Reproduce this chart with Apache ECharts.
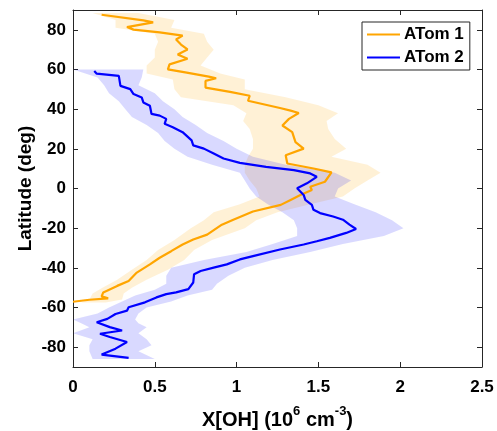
<!DOCTYPE html>
<html><head><meta charset="utf-8">
<script src="https://cdn.jsdelivr.net/npm/echarts@6/dist/echarts.min.js"></script>
<style>html,body{margin:0;padding:0;background:#fff}#c{width:497px;height:431px}</style>
</head><body><div id="c"></div>
<script>
const xTicks = [0, 0.5, 1, 1.5, 2, 2.5];
const yTicks = [-80, -60, -40, -20, 0, 20, 40, 60, 80];
const seriesNames = ['ATom 1', 'ATom 2'];

const atom1Lat = [87.6,84.75,83.75,81.4,80.1,78.75,77.1,75.1,72.6,70.1,67.6,65.4,62.6,60.1,58.4,56.4,55.6,54.25,50.9,48.75,46.75,44.25,40.6,39.25,38.1,35.1,31.75,28.4,23.4,20.1,16.75,12.6,10.1,8.1,3.4,0.9,-0.75,-3.25,-5.75,-8.25,-11.6,-15.75,-18.25,-23.25,-25.75,-28.25,-31.6,-34.9,-38.25,-42.4,-46.6,-49.1,-52.4,-54.4,-55.4,-56.1,-57.1];
const atom1OH  = [0.175,0.43,0.49,0.33,0.37,0.53,0.67,0.63,0.66,0.70,0.64,0.70,0.59,0.58,0.695,0.83,0.875,0.81,0.81,0.96,1.08,1.07,1.265,1.33,1.38,1.32,1.28,1.34,1.36,1.41,1.30,1.31,1.47,1.58,1.54,1.45,1.46,1.39,1.33,1.27,1.10,0.98,0.91,0.82,0.735,0.67,0.60,0.53,0.47,0.39,0.34,0.27,0.185,0.175,0.215,0.10,0.0];

const atom2Lat = [59.25,57.9,56.75,51.75,50.1,47.6,45.9,43.4,41.75,37.6,36.75,35.1,32.6,30.9,28.4,24.25,21.75,20.1,17.6,15.1,12.9,10.9,9.25,7.6,5.9,2.6,0.1,-3.25,-5.75,-8.25,-10.75,-12.4,-14.1,-15.75,-18.25,-20.4,-22.4,-24.9,-26.6,-28.25,-30.75,-34.1,-35.75,-38.25,-39.9,-41.6,-43.25,-47.4,-50.75,-52.4,-53.25,-54.9,-57.4,-59.9,-61.6,-63.25,-65.75,-67.4,-69.9,-71.6,-73.25,-74.9,-77.4,-80.75,-83.75,-85.4];
const atom2OH  = [0.13,0.145,0.28,0.29,0.35,0.37,0.42,0.43,0.47,0.48,0.53,0.57,0.56,0.61,0.67,0.725,0.735,0.80,0.86,0.92,1.02,1.18,1.35,1.45,1.49,1.43,1.37,1.41,1.42,1.46,1.47,1.51,1.59,1.65,1.69,1.73,1.67,1.57,1.49,1.41,1.265,1.10,1.02,0.94,0.86,0.78,0.74,0.735,0.705,0.63,0.57,0.51,0.44,0.34,0.33,0.26,0.21,0.145,0.225,0.30,0.165,0.225,0.33,0.26,0.175,0.34];

const atom1BandLat = [88.5,85,81,78,74,70,66,62,58,55,50,46,42,38,34,30,25,20,16,12,8,4,0,-4,-8,-12,-16,-20,-26,-31,-36,-41,-46,-50,-53,-56,-57.5];
const atom1BandLo  = [0.12,0.26,0.26,0.50,0.52,0.50,0.50,0.45,0.45,0.61,0.62,0.66,0.98,1.06,1.04,1.08,1.10,1.10,1.07,1.05,1.05,1.08,1.12,1.14,1.02,0.86,0.80,0.72,0.62,0.52,0.45,0.36,0.27,0.18,0.12,0.10,0.05];
const atom1BandHi  = [0.40,0.62,0.60,0.80,0.82,0.86,0.82,0.78,0.90,1.05,1.05,1.30,1.50,1.62,1.55,1.56,1.60,1.67,1.58,1.80,1.88,1.80,1.72,1.65,1.45,1.25,1.12,1.05,0.85,0.74,0.68,0.58,0.45,0.36,0.31,0.30,0.20];

const atom2BandLat = [60,56,52,48,44,40,36,32,28,24,20,16,12,8,4,0,-4,-8,-12,-16,-20,-24,-28,-32,-36,-40,-44,-48,-51,-54,-57,-60,-63,-66,-68,-70,-73,-76,-79,-82,-86];
const atom2BandLo  = [0.0,0.15,0.19,0.22,0.28,0.32,0.36,0.45,0.52,0.56,0.62,0.70,0.85,1.02,1.05,1.08,1.12,1.19,1.28,1.35,1.37,1.37,1.22,1.06,0.80,0.60,0.57,0.57,0.50,0.38,0.30,0.22,0.15,0.0,0.05,0.10,0.0,0.12,0.10,0.10,0.12];
const atom2BandHi  = [0.43,0.42,0.40,0.50,0.55,0.62,0.67,0.75,0.82,0.92,1.00,1.10,1.30,1.60,1.70,1.62,1.60,1.72,1.85,1.95,2.02,1.90,1.65,1.45,1.22,1.05,0.95,0.88,0.85,0.70,0.60,0.45,0.40,0.38,0.40,0.45,0.40,0.45,0.48,0.40,0.50];

function pairs(xs, ys) { return xs.map((x, i) => [x, ys[i]]); }

function band(name, lat, lo, hi, color) {
  return {
    type: 'custom', name: name, silent: true, z: 1, clip: true,
    data: [[0, 0]],
    renderItem: function (params, api) {
      const pts = [];
      for (let i = 0; i < lat.length; i++) pts.push(api.coord([lo[i], lat[i]]));
      for (let i = lat.length - 1; i >= 0; i--) pts.push(api.coord([hi[i], lat[i]]));
      return { type: 'polygon', shape: { points: pts }, style: { fill: color } };
    }
  };
}

const axisColor = '#262626';
const font = 'Liberation Sans, Arial, sans-serif';
const chart = echarts.init(document.getElementById('c'), null, { renderer: 'canvas' });
chart.setOption({
  animation: false,
  backgroundColor: '#fff',
  grid: { left: 73, right: 15, top: 10, bottom: 64, containLabel: false, outerBoundsMode: 'none' },
  legend: {
    data: seriesNames, orient: 'vertical', left: 362, top: 22,
    icon: 'rect', itemWidth: 33, itemHeight: 2, itemGap: 6,
    padding: [4, 6, 4, 5],
    borderColor: '#262626', borderWidth: 1, backgroundColor: '#fff',
    textStyle: { fontFamily: font, fontWeight: 'bold', fontSize: 17, color: '#000', padding: [0, 0, 0, -1] }
  },
  xAxis: [{
    type: 'value', min: 0, max: 2.5, interval: 0.5, position: 'bottom',
    axisLine: { show: true, onZero: false, lineStyle: { color: axisColor, width: 1 } },
    axisTick: { show: true, inside: true, length: 5, lineStyle: { color: axisColor } },
    axisLabel: { margin: 12, fontFamily: font, fontWeight: 'bold', fontSize: 17, color: '#000',
      customValues: xTicks },
    splitLine: { show: false },
    name: '{n|X[OH] (10}{s|6}{n| cm}{s|-3}{n|)}',
    nameLocation: 'middle', nameGap: 38, nameMoveOverlap: false,
    nameTextStyle: {
      rich: {
        n: { fontFamily: font, fontWeight: 'bold', fontSize: 20, color: '#000', lineHeight: 25, verticalAlign: 'bottom' },
        s: { fontFamily: font, fontWeight: 'bold', fontSize: 13, color: '#000', lineHeight: 25, verticalAlign: 'top' }
      }
    }
  }, {
    type: 'value', min: 0, max: 2.5, interval: 0.5, position: 'top',
    axisLine: { show: true, onZero: false, lineStyle: { color: axisColor, width: 1 } },
    axisTick: { show: true, inside: true, length: 5, lineStyle: { color: axisColor } },
    axisLabel: { show: false }, splitLine: { show: false }
  }],
  yAxis: [{
    type: 'value', min: -90, max: 90, position: 'left',
    axisLine: { show: true, onZero: false, lineStyle: { color: axisColor, width: 1 } },
    axisTick: { show: true, inside: true, length: 5, lineStyle: { color: axisColor }, customValues: yTicks },
    axisLabel: { margin: 7, fontFamily: font, fontWeight: 'bold', fontSize: 17, color: '#000', customValues: yTicks },
    splitLine: { show: false },
    name: 'Latitude (deg)', nameLocation: 'middle', nameGap: 38, nameRotate: 90, nameMoveOverlap: false,
    nameTextStyle: { fontFamily: font, fontWeight: 'bold', fontSize: 19, color: '#000' }
  }, {
    type: 'value', min: -90, max: 90, position: 'right',
    axisLine: { show: true, onZero: false, lineStyle: { color: axisColor, width: 1 } },
    axisTick: { show: true, inside: true, length: 5, lineStyle: { color: axisColor }, customValues: yTicks },
    axisLabel: { show: false }, splitLine: { show: false }
  }],
  series: [
    band('ATom 1 range', atom1BandLat, atom1BandLo, atom1BandHi, 'rgba(255,165,0,0.16)'),
    band('ATom 2 range', atom2BandLat, atom2BandLo, atom2BandHi, 'rgba(0,0,255,0.15)'),
    { type: 'line', name: 'ATom 1', data: pairs(atom1OH, atom1Lat), symbol: 'none', z: 3,
      lineStyle: { color: '#ffa500', width: 2.2 }, itemStyle: { color: '#ffa500' } },
    { type: 'line', name: 'ATom 2', data: pairs(atom2OH, atom2Lat), symbol: 'none', z: 4,
      lineStyle: { color: '#0000ff', width: 2.2 }, itemStyle: { color: '#0000ff' } }
  ]
});
</script></body></html>
